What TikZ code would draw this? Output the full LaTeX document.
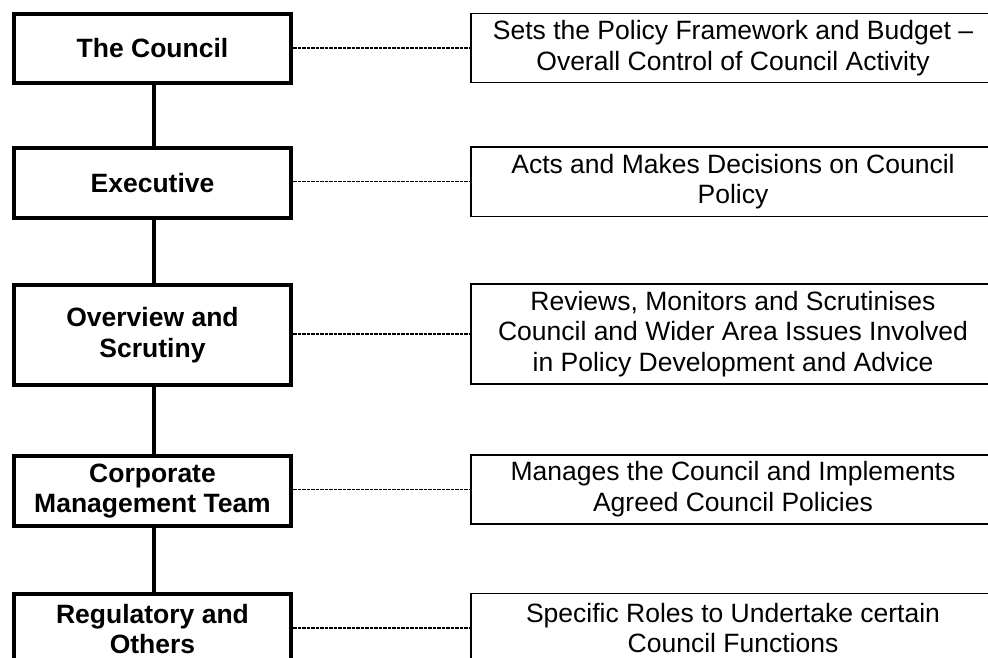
\documentclass[tikz,border=0pt]{standalone}
\usepackage{fontspec}
\setmainfont{Liberation Sans}
\begin{document}
\begin{tikzpicture}[x=1pt,y=-1pt,
  leftbox/.style={draw,line width=4pt,rectangle,inner sep=0pt,minimum width=277pt,align=center,font=\bfseries\fontsize{26.5}{30.5}\selectfont},
  rightbox/.style={draw,line width=1.4pt,rectangle,inner sep=0pt,minimum width=524pt,align=center,font=\fontsize{26.5}{30.5}\selectfont},
  link/.style={line width=4pt},
  dashlink/.style={line width=1.3pt,dash pattern=on 3.5pt off 1pt}]
\clip (0,0) rectangle (988,658);
\fill[white] (0,0) rectangle (988,658);
% left column
\node[leftbox,minimum height=69pt] (b1) at (152.5,48.5) {The Council};
\node[leftbox,minimum height=70pt] (b2) at (152.5,183) {Executive};
\node[leftbox,minimum height=100pt] (b3) at (152.5,335) {Overview and\\Scrutiny};
\node[leftbox,minimum height=70pt] (b4) at (152.5,491) {Corporate\\Management Team};
\node[leftbox,minimum height=70pt] (b5) at (152.5,629) {Regulatory and\\Others};
% right column
\node[rightbox,minimum height=69pt] (r1) at (733,48) {Sets the Policy Framework and Budget --\\Overall Control of Council Activity};
\node[rightbox,minimum height=69pt] (r2) at (733,181.7) {Acts and Makes Decisions on Council\\Policy};
\node[rightbox,minimum height=100pt] (r3) at (733,334) {Reviews, Monitors and Scrutinises\\Council and Wider Area Issues Involved\\in Policy Development and Advice};
\node[rightbox,minimum height=69pt] (r4) at (733,489.3) {Manages the Council and Implements\\Agreed Council Policies};
\node[rightbox,minimum height=69pt] (r5) at (733,628) {Specific Roles to Undertake certain\\Council Functions};
% vertical connectors
\draw[link] ([xshift=1.5pt]b1.south) -- ([xshift=1.5pt]b2.north);
\draw[link] ([xshift=1.5pt]b2.south) -- ([xshift=1.5pt]b3.north);
\draw[link] ([xshift=1.5pt]b3.south) -- ([xshift=1.5pt]b4.north);
\draw[link] ([xshift=1.5pt]b4.south) -- ([xshift=1.5pt]b5.north);
% dashed connectors
\draw[dashlink] (b1.east |- r1.west) -- (r1.west);
\draw[dashlink] (b2.east |- r2.west) -- (r2.west);
\draw[dashlink] (b3.east |- r3.west) -- (r3.west);
\draw[dashlink] (b4.east |- r4.west) -- (r4.west);
\draw[dashlink,line width=1.8pt] (b5.east |- r5.west) -- (r5.west);
\end{tikzpicture}
\end{document}
